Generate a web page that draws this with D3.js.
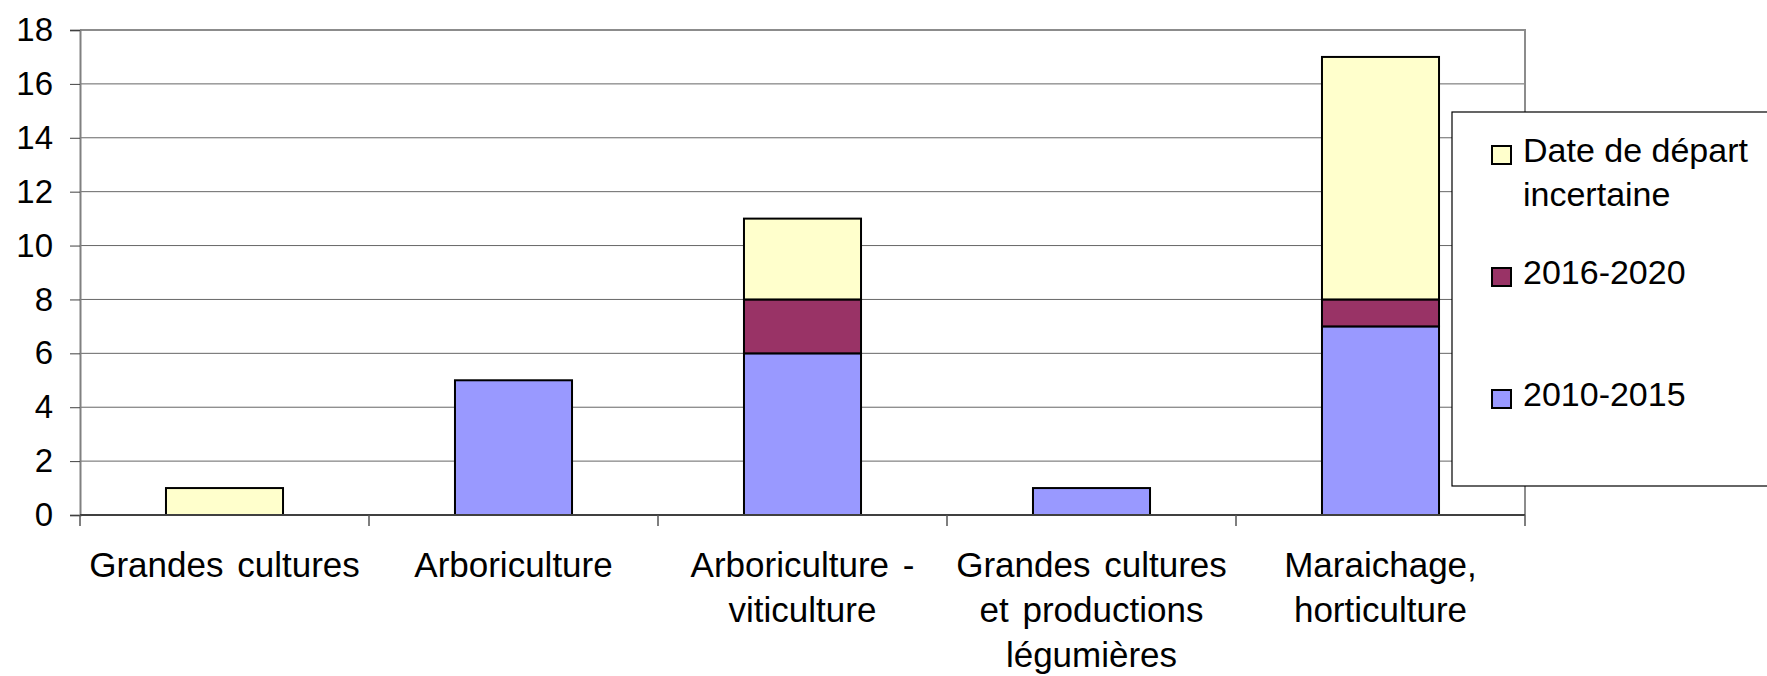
<!DOCTYPE html>
<html>
<head>
<meta charset="utf-8">
<script src="https://cdn.jsdelivr.net/npm/d3@7"></script>
<style>
  html, body { margin: 0; padding: 0; background: #fff; overflow: hidden; }
  svg { display: block; font-family: "Liberation Sans", Arial, sans-serif; }
</style>
</head>
<body>
<svg id="chart"></svg>
<script>
// Stacked columns: departures by production type and period
const categories = [
  "Grandes cultures",
  "Arboriculture",
  "Arboriculture - viticulture",
  "Grandes cultures et productions légumières",
  "Maraichage, horticulture"
];
// how each category label wraps under the axis
const categoryLines = [
  ["Grandes cultures"],
  ["Arboriculture"],
  ["Arboriculture -", "viticulture"],
  ["Grandes cultures", "et productions", "légumières"],
  ["Maraichage,", "horticulture"]
];
const series = ["2010-2015", "2016-2020", "Date de départ incertaine"];
const v2010_2015 = [0, 5, 6, 1, 7];
const v2016_2020 = [0, 0, 2, 0, 1];
const vIncertaine = [1, 0, 3, 0, 9];
const yTicks = [0, 2, 4, 6, 8, 10, 12, 14, 16, 18];

const colors = {
  "2010-2015": "#9999ff",
  "2016-2020": "#993366",
  "Date de départ incertaine": "#ffffcc"
};

(function () {
  const W = 1767, H = 676;
  const M = { top: 30, right: 242, bottom: 161, left: 80 };
  const innerW = W - M.left - M.right;
  const innerH = H - M.top - M.bottom;

  const svg = d3.select("#chart").attr("width", W).attr("height", H);
  const g = svg.append("g").attr("transform", `translate(${M.left},${M.top})`);

  const x = d3.scaleBand().domain(categories).range([0, innerW]).paddingInner(0).paddingOuter(0);
  const y = d3.scaleLinear().domain([0, 18]).range([innerH, 0]);

  const rows = categories.map((c, i) => ({
    cat: c,
    "2010-2015": v2010_2015[i],
    "2016-2020": v2016_2020[i],
    "Date de départ incertaine": vIncertaine[i]
  }));
  const stacked = d3.stack().keys(series)(rows);

  // gridlines
  g.append("g").selectAll("line").data(yTicks.filter(t => t > 0)).enter()
    .append("line")
    .attr("x1", 0).attr("x2", innerW)
    .attr("y1", d => y(d)).attr("y2", d => y(d))
    .attr("stroke", "#666").attr("stroke-width", 1);

  // plot border (top/right)
  g.append("path")
    .attr("d", `M0,${y(18)} H${innerW} V${innerH}`)
    .attr("fill", "none").attr("stroke", "#8c8c8c").attr("stroke-width", 2);

  // bars
  const bw = x.bandwidth() * 0.405;
  stacked.forEach(layer => {
    g.append("g").selectAll("rect")
      .data(layer.filter(d => d[1] - d[0] > 0)).enter()
      .append("rect")
      .attr("x", d => x(d.data.cat) + (x.bandwidth() - bw) / 2)
      .attr("width", bw)
      .attr("y", d => y(d[1]))
      .attr("height", d => y(d[0]) - y(d[1]))
      .attr("fill", colors[layer.key])
      .attr("stroke", "#000").attr("stroke-width", 2);
  });

  // y axis
  const yAxis = g.append("g")
    .call(d3.axisLeft(y).tickValues(yTicks).tickSize(10).tickPadding(17).tickFormat(d3.format("d")));
  yAxis.select(".domain").attr("stroke", "#808080").attr("stroke-width", 2);
  yAxis.selectAll(".tick line").attr("stroke", "#404040");
  yAxis.selectAll("text").attr("font-size", 33).attr("fill", "#000")
    .attr("font-family", "Liberation Sans, Arial, sans-serif");

  // x axis line and boundary ticks
  g.append("line")
    .attr("x1", 0).attr("x2", innerW).attr("y1", innerH).attr("y2", innerH)
    .attr("stroke", "#404040").attr("stroke-width", 2);
  const bounds = categories.map(c => x(c)).concat([innerW]);
  g.append("g").selectAll("line").data(bounds).enter()
    .append("line")
    .attr("x1", d => d).attr("x2", d => d)
    .attr("y1", innerH).attr("y2", innerH + 11)
    .attr("stroke", "#555").attr("stroke-width", 1.5);

  // category labels
  categories.forEach((c, i) => {
    const t = g.append("text")
      .attr("x", x(c) + x.bandwidth() / 2)
      .attr("y", innerH + 62)
      .attr("text-anchor", "middle")
      .attr("font-size", 35)
      .attr("word-spacing", "4px")
      .attr("fill", "#000");
    categoryLines[i].forEach((line, j) => {
      t.append("tspan")
        .attr("x", x(c) + x.bandwidth() / 2)
        .attr("y", innerH + 62 + j * 45)
        .text(line);
    });
  });

  // legend
  const lg = svg.append("g").attr("transform", "translate(1452,112)");
  lg.append("rect")
    .attr("x", 0).attr("y", 0).attr("width", 340).attr("height", 374)
    .attr("fill", "#fff").attr("stroke", "#000").attr("stroke-width", 1.2);

  const legendItems = [
    { key: "Date de départ incertaine", lines: ["Date de départ", "incertaine"], sq: 34 },
    { key: "2016-2020", lines: ["2016-2020"], sq: 156 },
    { key: "2010-2015", lines: ["2010-2015"], sq: 278 }
  ];
  legendItems.forEach(it => {
    lg.append("rect")
      .attr("x", 40).attr("y", it.sq).attr("width", 19).attr("height", 18)
      .attr("fill", colors[it.key]).attr("stroke", "#000").attr("stroke-width", 2);
    const t = lg.append("text").attr("font-size", 34).attr("fill", "#000");
    it.lines.forEach((line, j) => {
      t.append("tspan").attr("x", 71).attr("y", it.sq + 16 + j * 44).text(line);
    });
  });
})();
</script>
</body>
</html>
